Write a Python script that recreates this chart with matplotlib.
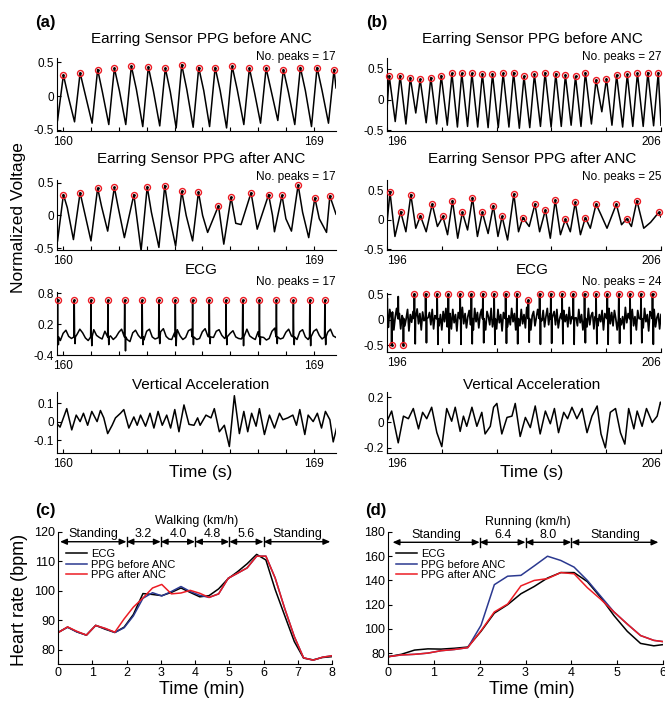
import numpy as np
import matplotlib.pyplot as plt

plt.rcParams['font.family'] = ['Liberation Sans', 'DejaVu Sans']
plt.rcParams['axes.unicode_minus'] = False

RED = '#ec1c24'
BLUE = '#2b3990'

# ---------------- (a) walking, 160-170 s ----------------
ppg_a_pre_peak_t = [160.01, 160.61, 161.24, 161.84, 162.45, 163.06, 163.67, 164.26, 164.87,
                    165.46, 166.07, 166.69, 167.29, 167.91, 168.52, 169.12, 169.73]
ppg_a_pre_peak_v = [0.31, 0.34, 0.39, 0.41, 0.44, 0.43, 0.41, 0.46, 0.42,
                    0.42, 0.44, 0.41, 0.41, 0.39, 0.42, 0.42, 0.39]
ppg_a_pre_notch_t = [160.18, 160.79, 161.41, 162.02, 162.63, 163.24, 163.85, 164.44,
                     165.05, 165.64, 166.25, 166.87, 167.47, 168.09, 168.7, 169.3]
ppg_a_pre_notch_v = [0.0, 0.03, 0.06, 0.08, 0.1, 0.08, 0.06, 0.1,
                     0.08, 0.08, 0.1, 0.06, 0.08, 0.06, 0.08, 0.08]
ppg_a_pre_trough_t = [159.8, 160.41, 161.04, 161.64, 162.25, 162.86, 163.47, 164.06, 164.67,
                      165.26, 165.87, 166.49, 167.09, 167.71, 168.32, 168.92, 169.53, 169.8]
ppg_a_pre_trough_v = [-0.36, -0.38, -0.40, -0.42, -0.42, -0.45, -0.44, -0.47, -0.46,
                      -0.45, -0.47, -0.42, -0.40, -0.36, -0.42, -0.45, -0.40, 0.12]

ppg_a_post_peak_t = [160.01, 160.61, 161.24, 161.84, 162.54, 163.02, 163.65, 164.26, 164.86,
                     165.58, 166.03, 166.75, 167.38, 167.86, 168.44, 169.04, 169.58]
ppg_a_post_peak_v = [0.32, 0.35, 0.42, 0.43, 0.32, 0.44, 0.46, 0.37, 0.36,
                     0.15, 0.28, 0.35, 0.32, 0.31, 0.47, 0.27, 0.30]
ppg_a_post_trough_t = [159.8, 160.37, 161.0, 161.6, 162.2, 162.8, 163.44, 164.04, 164.65, 165.19,
                       165.77, 166.39, 166.97, 167.59, 168.2, 168.82, 169.46, 169.8]
ppg_a_post_trough_v = [-0.39, -0.37, -0.39, -0.24, -0.34, -0.54, -0.49, -0.47, -0.39, -0.26,
                       -0.44, -0.14, -0.21, -0.25, -0.24, -0.34, -0.26, 0.02]
ppg_a_post_shoulder_t = [160.15, 161.38, 161.98, 163.17, 163.8, 164.42, 165.01, 166.2,
                         167.52, 168.0, 168.6, 169.2]
ppg_a_post_shoulder_v = [0.12, 0.14, 0.12, 0.05, 0.02, 0.0, 0.0, -0.12,
                         0.0, -0.05, 0.05, -0.05]

ecg_a_r_t = [159.8, 160.4, 161.0, 161.61, 162.21, 162.84, 163.44, 164.03, 164.65,
             165.25, 165.85, 166.45, 167.05, 167.66, 168.27, 168.86, 169.4]
ecg_a_r_v = [0.66] * 17
ecg_a_s_t = [159.83, 160.43, 161.03, 161.64, 162.24, 162.87, 163.47, 164.06, 164.68,
             165.28, 165.88, 166.48, 167.08, 167.69, 168.3, 168.89, 169.43]
ecg_a_s_v = [-0.2, -0.18, -0.22, -0.2, -0.32, -0.2, -0.18, -0.22, -0.2,
             -0.18, -0.2, -0.22, -0.2, -0.18, -0.2, -0.22, -0.2]
ecg_a_base = [-0.05, -0.12, 0.02, 0.08, -0.04, -0.08, -0.1, 0.0, 0.1, 0.03,
              -0.07, -0.12, 0.05, 0.09, -0.02, -0.06, -0.09, 0.06, 0.12, -0.03,
              -0.1, -0.05, 0.04, 0.1, -0.06, -0.1, -0.14, 0.03, 0.08, -0.02,
              -0.08, -0.11, 0.06, 0.1, -0.05, -0.09, -0.07, 0.05, 0.11, -0.04,
              -0.09, -0.1, 0.03, 0.09, -0.03, -0.1, -0.06, 0.07, 0.1, -0.05,
              -0.1, -0.08, 0.05, 0.11, -0.04, -0.09, -0.06, 0.06, 0.09, -0.02,
              -0.08, -0.1, 0.02, 0.07, -0.05, -0.08, -0.09, 0.04, 0.1, -0.03,
              -0.07, -0.1, 0.05, 0.08, -0.06, -0.11, -0.08, 0.06, 0.12, -0.04,
              -0.09, -0.07, 0.04, 0.1, -0.03, -0.08, -0.1, 0.05, 0.09, -0.05,
              -0.1, -0.06, 0.06, 0.1, -0.02, -0.09, -0.1, 0.04, 0.1, -0.03, -0.06]

acc_a_t = [159.77, 159.89, 160.01, 160.13, 160.31, 160.47, 160.61, 160.73, 160.88, 161.03,
           161.22, 161.34, 161.46, 161.6, 161.76, 161.88, 162.06, 162.18, 162.36, 162.54,
           162.66, 162.78, 162.96, 163.12, 163.26, 163.41, 163.56, 163.72, 163.86, 164.01,
           164.16, 164.34, 164.52, 164.7, 164.83, 164.92, 165.13, 165.31, 165.43, 165.61,
           165.79, 165.97, 166.15, 166.33, 166.49, 166.63, 166.77, 166.93, 167.05, 167.23,
           167.41, 167.59, 167.77, 167.89, 168.07, 168.25, 168.38, 168.5, 168.68, 168.8,
           168.98, 169.13, 169.28, 169.42, 169.58, 169.7, 169.82]
acc_a_v = [-0.01, -0.03, 0.02, 0.07, -0.045, 0.035, 0.0, 0.045, -0.02, 0.055,
           0.0, 0.06, 0.02, -0.065, -0.02, 0.02, 0.045, 0.065, -0.035, 0.025,
           -0.02, 0.035, -0.025, 0.045, -0.035, 0.055, -0.02, 0.035, -0.035, 0.065,
           -0.055, 0.09, -0.015, -0.02, 0.02, -0.02, 0.035, 0.02, 0.07, -0.055,
           -0.02, -0.135, 0.14, -0.065, 0.055, -0.055, 0.045, -0.025, 0.07, -0.07,
           0.035, -0.035, 0.045, 0.01, 0.02, 0.035, -0.02, 0.065, -0.07, 0.035,
           0.0, 0.045, -0.035, 0.055, 0.01, -0.11, -0.035]

# ---------------- (b) running, 196-206 s ----------------
ppg_b_pre_peak_t = [196.08, 196.48, 196.85, 197.21, 197.6, 197.98, 198.37, 198.73, 199.1,
                    199.48, 199.85, 200.24, 200.62, 201.0, 201.38, 201.77, 202.16, 202.51,
                    202.88, 203.24, 203.63, 204.01, 204.38, 204.77, 205.14, 205.52, 205.9]
ppg_b_pre_peak_v = [0.39, 0.39, 0.36, 0.33, 0.36, 0.39, 0.43, 0.43, 0.43,
                    0.42, 0.42, 0.43, 0.44, 0.38, 0.41, 0.44, 0.42, 0.40,
                    0.38, 0.44, 0.32, 0.34, 0.40, 0.41, 0.43, 0.44, 0.44]
ppg_b_pre_trough_t = [196.0, 196.3, 196.69, 197.05, 197.43, 197.81, 198.2, 198.57, 198.94,
                      199.31, 199.69, 200.06, 200.45, 200.83, 201.21, 201.6, 201.99, 202.36,
                      202.72, 203.08, 203.46, 203.84, 204.21, 204.6, 204.97, 205.35, 205.73, 206.0]
ppg_b_pre_trough_v = [-0.16, -0.36, -0.40, -0.22, -0.38, -0.40, -0.42, -0.45, -0.44,
                      -0.45, -0.46, -0.46, -0.45, -0.47, -0.46, -0.44, -0.45, -0.44,
                      -0.42, -0.44, -0.40, -0.20, -0.42, -0.45, -0.44, -0.44, -0.43, -0.42]

ppg_b_post_peak_t = [196.11, 196.5, 196.87, 197.22, 197.65, 198.04, 198.39, 198.75, 199.12,
                     199.48, 199.88, 200.2, 200.63, 200.96, 201.4, 201.78, 202.14, 202.51,
                     202.87, 203.24, 203.63, 204.37, 204.75, 205.12, 205.92]
ppg_b_post_peak_v = [0.47, 0.14, 0.43, 0.07, 0.27, 0.06, 0.33, 0.13, 0.38,
                     0.13, 0.24, 0.06, 0.44, 0.04, 0.27, 0.17, 0.34, 0.01,
                     0.30, 0.04, 0.27, 0.27, 0.02, 0.33, 0.13]
ppg_b_post_trough_t = [196.0, 196.29, 196.69, 197.05, 197.43, 197.84, 198.21, 198.58, 198.94,
                       199.3, 199.69, 200.05, 200.4, 200.8, 201.19, 201.57, 201.96, 202.33,
                       202.69, 203.06, 203.42, 203.8, 204.03, 204.56, 204.92, 205.37, 205.62, 206.0]
ppg_b_post_trough_v = [-0.05, -0.28, -0.2, -0.14, -0.2, -0.11, -0.25, -0.31, -0.17,
                       -0.28, -0.23, -0.28, -0.34, -0.2, -0.11, -0.2, -0.31, -0.25,
                       -0.2, -0.25, -0.14, 0.1, -0.14, -0.08, -0.11, -0.14, -0.04, 0.05]

ecg_b_spike_t = [196.01, 196.41, 197.0, 197.41, 197.83, 198.24, 198.67, 199.08, 199.5, 199.91,
                 200.33, 200.74, 201.16, 201.57, 201.98, 202.39, 202.8, 203.21, 203.63, 204.04,
                 204.46, 204.87, 205.27, 205.69,
                 196.17, 196.6, 197.03, 197.44, 197.86, 198.27, 198.7, 199.11, 199.53, 199.94,
                 200.36, 200.77, 201.19, 201.6, 202.01, 202.42, 202.83, 203.24, 203.66, 204.07,
                 204.49, 204.9, 205.3, 205.72]
ecg_b_spike_v = [0.42, 0.45, 0.5, 0.5, 0.5, 0.5, 0.5, 0.5, 0.5, 0.5,
                 0.5, 0.5, 0.38, 0.5, 0.5, 0.5, 0.5, 0.5, 0.5, 0.5,
                 0.5, 0.5, 0.5, 0.5,
                 -0.5, -0.5, -0.47, -0.45, -0.48, -0.46, -0.48, -0.47, -0.45, -0.48,
                 -0.46, -0.47, -0.44, -0.48, -0.46, -0.47, -0.48, -0.45, -0.47, -0.48,
                 -0.46, -0.47, -0.45, -0.48]
ecg_b_peak_t = [196.17, 196.6, 197.0, 197.41, 197.83, 198.24, 198.67, 199.08, 199.5, 199.91,
                200.33, 200.74, 201.16, 201.57, 201.98, 202.39, 202.8, 203.21, 203.63, 204.04,
                204.46, 204.87, 205.27, 205.69]
ecg_b_peak_v = [-0.5, -0.5, 0.5, 0.5, 0.5, 0.5, 0.5, 0.5, 0.5, 0.5,
                0.5, 0.5, 0.38, 0.5, 0.5, 0.5, 0.5, 0.5, 0.5, 0.5,
                0.5, 0.5, 0.5, 0.5]
ecg_b_base = [0.1, -0.15, 0.2, -0.05, 0.15, -0.2, 0.05, 0.22, -0.1, 0.12, -0.18, 0.08, 0.18, -0.12, 0.02, 0.2, -0.22, 0.1, -0.05, 0.16,
              -0.14, 0.06, 0.21, -0.08, 0.12, -0.2, 0.15, -0.02, 0.24, -0.16, 0.04, 0.14, -0.1, 0.2, -0.18, 0.08, 0.02, 0.18, -0.12, 0.1,
              -0.2, 0.16, -0.04, 0.22, -0.14, 0.06, 0.12, -0.18, 0.2, -0.06, 0.1, -0.22, 0.14, 0.04, -0.12, 0.24, -0.08, 0.12, -0.16, 0.06,
              0.18, -0.1, 0.08, -0.2, 0.22, -0.04, 0.14, -0.16, 0.1, 0.2, -0.12, 0.02, -0.2, 0.16, 0.06, -0.1, 0.22, -0.14, 0.08, 0.12,
              -0.18, 0.2, -0.06, 0.1, -0.22, 0.14, 0.04, 0.18, -0.14, 0.08, -0.1, 0.22, -0.04, 0.12, -0.2, 0.16, 0.02, -0.12, 0.2, -0.08,
              0.1, -0.16, 0.24, -0.06, 0.14, -0.2, 0.08, 0.16, -0.12, 0.04, 0.2, -0.18, 0.1, -0.02, 0.18, -0.14, 0.06, 0.22, -0.1, 0.12,
              -0.2, 0.08, 0.16, -0.1, 0.2, -0.16, 0.02, 0.12, -0.22, 0.18, -0.04, 0.1, -0.14, 0.24, -0.08, 0.06, -0.18, 0.14, 0.04, -0.12,
              0.2, -0.06, 0.1, -0.2, 0.16, 0.02, -0.14, 0.22, -0.1, 0.08, 0.14, -0.18, 0.06, 0.2, -0.12, 0.1, -0.04, 0.18, -0.2, 0.12,
              0.04, -0.16, 0.22, -0.08, 0.14, -0.12, 0.18, 0.02, -0.2, 0.1, 0.16, -0.1, 0.06, -0.18, 0.24, -0.06, 0.12, -0.14, 0.08, 0.2,
              -0.12, 0.06, -0.2, 0.18, 0.02, -0.1, 0.14, -0.16, 0.22, -0.04, 0.1, -0.22, 0.16, 0.08, -0.08, 0.2, -0.14, 0.04, 0.12, -0.18,
              0.1]

acc_b_t = [196.0, 196.17, 196.41, 196.6, 196.78, 196.96, 197.15, 197.3, 197.45, 197.63,
           197.82, 198.0, 198.18, 198.36, 198.49, 198.67, 198.79, 198.91, 199.1, 199.28,
           199.46, 199.58, 199.77, 199.89, 200.01, 200.19, 200.38, 200.56, 200.68, 200.86,
           201.05, 201.23, 201.41, 201.59, 201.78, 201.96, 202.11, 202.26, 202.45, 202.59,
           202.75, 202.93, 203.12, 203.3, 203.48, 203.67, 203.81, 203.97, 204.15, 204.34,
           204.52, 204.68, 204.82, 205.01, 205.13, 205.31, 205.47, 205.68, 205.86, 205.98, 206.0]
acc_b_v = [0.01, 0.09, -0.16, 0.05, 0.03, 0.11, -0.05, 0.08, 0.03, 0.12,
           -0.08, -0.19, 0.11, 0.01, 0.12, -0.07, 0.05, -0.03, 0.12, -0.03,
           0.08, -0.09, -0.03, 0.12, 0.15, -0.09, 0.04, 0.05, 0.15, -0.11,
           0.04, -0.04, 0.13, -0.09, 0.09, -0.01, 0.11, -0.08, 0.08, 0.03,
           0.12, 0.03, 0.11, -0.08, 0.05, 0.13, -0.09, -0.2, 0.08, 0.11,
           -0.08, -0.17, 0.11, -0.05, 0.09, -0.03, 0.11, 0.0, 0.05, 0.16, 0.15]

# ---------------- (c) walking heart rate ----------------
hr_c_time = [0, 0.28, 0.55, 0.83, 1.1, 1.38, 1.66, 1.93, 2.2, 2.48, 2.76, 3.03, 3.31, 3.59, 3.86,
             4.14, 4.41, 4.69, 4.97, 5.24, 5.52, 5.8, 6.07, 6.34, 6.62, 6.9, 7.17, 7.45, 7.72, 8.0]
hr_c_ecg = [85.9, 87.7, 86.1, 85.0, 88.3, 87.0, 85.9, 87.7, 92.0, 99.1, 98.8, 98.4, 99.5, 101.0, 99.5,
            98.0, 98.4, 100.7, 104.2, 106.5, 109.2, 112.4, 110.5, 100.5, 91.6, 82.8, 77.2, 76.6, 77.4, 77.7]
hr_c_pre = [85.9, 87.7, 86.1, 85.0, 88.3, 87.2, 85.9, 87.5, 91.5, 97.5, 99.4, 98.3, 99.8, 101.5, 99.8,
            98.5, 97.8, 99.0, 104.3, 106.0, 107.8, 111.8, 111.8, 104.4, 94.0, 84.5, 77.3, 76.5, 77.5, 78.0]
hr_c_post = [85.8, 87.8, 86.3, 85.0, 88.3, 87.3, 86.0, 90.5, 94.5, 97.6, 101.0, 102.2, 99.0, 99.3, 100.2,
             99.2, 97.8, 99.0, 104.3, 106.0, 107.8, 111.8, 111.8, 104.4, 94.0, 84.5, 77.3, 76.5, 77.5, 78.0]
stage_c_edges = [0.06, 2, 3, 4, 5, 6, 7.95]
stage_c_labels = ['Standing', '3.2', '4.0', '4.8', '5.6', 'Standing']

# ---------------- (d) running heart rate ----------------
hr_d_time = [0, 0.29, 0.58, 0.87, 1.16, 1.45, 1.74, 2.03, 2.32, 2.61, 2.9, 3.19, 3.48, 3.77, 4.06,
             4.35, 4.64, 4.93, 5.22, 5.51, 5.8, 6.0]
hr_d_ecg = [77, 79, 82.5, 83.5, 83.3, 84, 85, 98, 113, 120, 129, 135, 142, 146.5, 146.5,
            139, 126, 111, 98, 88, 86, 87]
hr_d_pre = [77, 78.5, 79, 80, 82, 83, 84.5, 103, 136.5, 143.5, 144.2, 152, 160, 156.5, 151,
            140, 127, 114, 104, 94.5, 90.5, 89.5]
hr_d_post = [77, 78.5, 79, 80, 82, 83, 84.5, 98.5, 114, 120.5, 135.5, 140, 141.5, 146.5, 145.5,
             134, 124.5, 114, 104, 94.5, 90.5, 89.5]
stage_d_edges = [0.1, 2, 3, 4, 5.9]
stage_d_labels = ['Standing', '6.4', '8.0', 'Standing']

W, H = 665, 704
fig = plt.figure(figsize=(W / 100, H / 100), dpi=100)


def px_axes(l, t, r, b, xpad=3.5):
    ax = fig.add_axes([l / W, 1 - b / H, (r - l) / W, (b - t) / H])
    ax.spines['top'].set_visible(False)
    ax.spines['right'].set_visible(False)
    ax.tick_params(direction='in', length=3, width=0.8, labelsize=8.5, pad=2)
    ax.tick_params(axis='x', pad=xpad)
    return ax


def px_text(x, y, s, **kw):
    fig.text(x / W, 1 - y / H, s, ha=kw.pop('ha', 'center'), va=kw.pop('va', 'center'), **kw)


def merge(*pairs):
    t = np.concatenate([np.asarray(p[0], float) for p in pairs])
    v = np.concatenate([np.asarray(p[1], float) for p in pairs])
    o = np.argsort(t, kind='stable')
    return t[o], v[o]


def ecg_trace(grid_t, grid_v, spike_t, spike_v, base, half=0.012):
    grid_t = np.asarray(grid_t, float)
    grid_v = np.asarray(grid_v, float)
    st = np.asarray(spike_t, float)
    keep = np.min(np.abs(grid_t[:, None] - st[None, :]), axis=1) > 0.025
    tt = [grid_t[keep]]
    vv = [grid_v[keep]]
    for s, v in zip(st, spike_v):
        tt.append([s - half, s, s + half])
        vv.append([base, v, base])
    return merge((np.concatenate(tt), np.concatenate(vv)))


def mark_peaks(ax, t, v):
    ax.plot(t, v, 'o', ms=4.3, mfc='none', mec=RED, mew=1.0, clip_on=False, zorder=4)
    ax.plot(t, v, '.', ms=2, color='k', clip_on=False, zorder=5)


def wave_axes(ax, xlim, xticks, xlabels, ylim, yticks, ylabels):
    ax.set_xlim(*xlim)
    ax.set_ylim(*ylim)
    ax.set_xticks(xticks)
    ax.set_xticklabels(xlabels)
    ax.set_yticks(yticks)
    ax.set_yticklabels(ylabels)


lw = 1.1
xa = dict(xlim=(159.78, 169.8), xticks=list(range(160, 170)),
          xlabels=['160'] + [''] * 8 + ['169'])
xb = dict(xlim=(196, 206), xticks=list(range(196, 207, 2)),
          xlabels=['196', '', '', '', '', '206'])

# (a) rows
ax = px_axes(57, 58, 336, 131)
t, v = merge((ppg_a_pre_peak_t, ppg_a_pre_peak_v), (ppg_a_pre_notch_t, ppg_a_pre_notch_v),
             (ppg_a_pre_trough_t, ppg_a_pre_trough_v))
ax.plot(t, v, color='k', lw=lw)
mark_peaks(ax, ppg_a_pre_peak_t, ppg_a_pre_peak_v)
wave_axes(ax, ylim=(-0.515, 0.56), yticks=[-0.5, 0, 0.5], ylabels=['-0.5', '0', '0.5'], **xa)

ax = px_axes(57, 180, 336, 250)
t, v = merge((ppg_a_post_peak_t, ppg_a_post_peak_v), (ppg_a_post_trough_t, ppg_a_post_trough_v),
             (ppg_a_post_shoulder_t, ppg_a_post_shoulder_v))
ax.plot(t, v, color='k', lw=lw)
mark_peaks(ax, ppg_a_post_peak_t, ppg_a_post_peak_v)
wave_axes(ax, ylim=(-0.53, 0.545), yticks=[-0.5, 0, 0.5], ylabels=['-0.5', '0', '0.5'], **xa)

ax = px_axes(57, 292, 336, 355)
t, v = ecg_trace(np.arange(1598, 1699) / 10, ecg_a_base,
                 ecg_a_r_t + ecg_a_s_t, ecg_a_r_v + ecg_a_s_v, -0.05)
ax.plot(t, v, color='k', lw=lw)
mark_peaks(ax, ecg_a_r_t, ecg_a_r_v)
wave_axes(ax, ylim=(-0.4, 0.82), yticks=[-0.4, 0.2, 0.8], ylabels=['-0.4', '0.2', '0.8'], **xa)

ax = px_axes(57, 392, 336, 453)
ax.plot(acc_a_t, acc_a_v, color='k', lw=lw)
wave_axes(ax, ylim=(-0.17, 0.16), yticks=[-0.1, 0, 0.1], ylabels=['-0.1', '0', '0.1'], **xa)

# (b) rows
ax = px_axes(387, 58, 661, 131)
t, v = merge((ppg_b_pre_peak_t, ppg_b_pre_peak_v), (ppg_b_pre_trough_t, ppg_b_pre_trough_v))
ax.plot(t, v, color='k', lw=lw)
mark_peaks(ax, ppg_b_pre_peak_t, ppg_b_pre_peak_v)
wave_axes(ax, ylim=(-0.515, 0.68), yticks=[-0.5, 0, 0.5], ylabels=['-0.5', '0', '0.5'], **xb)
b_axes = [ax]

ax = px_axes(387, 180, 661, 250)
t, v = merge((ppg_b_post_peak_t, ppg_b_post_peak_v), (ppg_b_post_trough_t, ppg_b_post_trough_v))
ax.plot(t, v, color='k', lw=lw)
mark_peaks(ax, ppg_b_post_peak_t, ppg_b_post_peak_v)
wave_axes(ax, ylim=(-0.51, 0.68), yticks=[-0.5, 0, 0.5], ylabels=['-0.5', '0', '0.5'], **xb)
b_axes.append(ax)

ax = px_axes(387, 293, 661, 352)
t, v = ecg_trace(np.arange(3920, 4121) / 20, ecg_b_base, ecg_b_spike_t, ecg_b_spike_v, 0.02)
ax.plot(t, v, color='k', lw=1.25)
mark_peaks(ax, ecg_b_peak_t, ecg_b_peak_v)
wave_axes(ax, ylim=(-0.63, 0.52), yticks=[-0.5, 0, 0.5], ylabels=['-0.5', '0', '0.5'], **xb)
b_axes.append(ax)

ax = px_axes(387, 392, 661, 453)
ax.plot(acc_b_t, acc_b_v, color='k', lw=lw)
wave_axes(ax, ylim=(-0.24, 0.24), yticks=[-0.2, 0, 0.2], ylabels=['-0.2', '0', '0.2'], **xb)
b_axes.append(ax)

for ax in b_axes:
    labs = ax.get_xticklabels()
    labs[0].set_ha('left')
    labs[-1].set_ha('right')

# titles and peak counts
for xc, xr, counts in [(201, 336, ['17', '17', '17']), (532, 662, ['27', '25', '24'])]:
    px_text(xc, 39, 'Earring Sensor PPG before ANC', fontsize=11)
    px_text(xc, 159, 'Earring Sensor PPG after ANC', fontsize=11)
    px_text(xc, 270, 'ECG', fontsize=11)
    px_text(xc, 385, 'Vertical Acceleration', fontsize=11)
    px_text(xc, 472, 'Time (s)', fontsize=12.5)
    for y, n in zip([57, 177, 282], counts):
        px_text(xr, y, 'No. peaks = ' + n, fontsize=8.5, ha='right')

px_text(19, 218, 'Normalized Voltage', fontsize=12.5, rotation=90)
px_text(45, 22, '(a)', fontsize=12, fontweight='bold')
px_text(377, 22, '(b)', fontsize=12, fontweight='bold')
px_text(45, 510, '(c)', fontsize=12, fontweight='bold')
px_text(376, 510, '(d)', fontsize=12, fontweight='bold')


def stages(ax, edges, labels, y, dy, ty):
    for x0, x1, lab in zip(edges[:-1], edges[1:], labels):
        ax.annotate('', xy=(x1, y), xytext=(x0, y), annotation_clip=False,
                    arrowprops=dict(arrowstyle='<|-|>,head_length=0.5,head_width=0.22',
                                    mutation_scale=8, lw=1.0, color='k',
                                    shrinkA=0, shrinkB=0))
        ax.text((x0 + x1) / 2, ty, lab, ha='center', va='center', fontsize=9, clip_on=False)
    for x in edges[1:-1]:
        ax.plot([x, x], [y - dy, y + dy], color='k', lw=1.0, clip_on=False)


def hr_panel(ax, t, ecg, pre, post):
    ax.plot(t, ecg, color='k', lw=1.1, label='ECG')
    ax.plot(t, pre, color=BLUE, lw=1.1, label='PPG before ANC')
    ax.plot(t, post, color=RED, lw=1.1, label='PPG after ANC')
    ax.tick_params(labelsize=9)
    ax.legend(loc='upper left', bbox_to_anchor=(0.03, 0.87), frameon=False, fontsize=8,
              handlelength=1.9, handletextpad=0.3, labelspacing=0.05, borderpad=0,
              borderaxespad=0)


ax = px_axes(58, 532, 332, 664, xpad=2)
hr_panel(ax, hr_c_time, hr_c_ecg, hr_c_pre, hr_c_post)
ax.set_xlim(0, 8)
ax.set_ylim(75.2, 120)
ax.set_xticks(range(0, 9))
ax.set_yticks(range(80, 121, 10))
stages(ax, stage_c_edges, stage_c_labels, 116.7, 1.5, 119.3)
ax.text(4.05, 123.9, 'Walking (km/h)', ha='center', va='center', fontsize=9, clip_on=False)

ax = px_axes(388, 532, 663, 664, xpad=2)
hr_panel(ax, hr_d_time, hr_d_ecg, hr_d_pre, hr_d_post)
ax.set_xlim(0, 6)
ax.set_ylim(71, 180)
ax.set_xticks(range(0, 7))
ax.set_yticks(range(80, 181, 20))
stages(ax, stage_d_edges, stage_d_labels, 171.5, 3.8, 177.8)
ax.text(3.05, 188.5, 'Running (km/h)', ha='center', va='center', fontsize=9, clip_on=False)

px_text(20, 600, 'Heart rate (bpm)', fontsize=13, rotation=90)
px_text(202, 689, 'Time (min)', fontsize=13)
px_text(532, 689, 'Time (min)', fontsize=13)

fig.savefig('out.png', dpi=100)
